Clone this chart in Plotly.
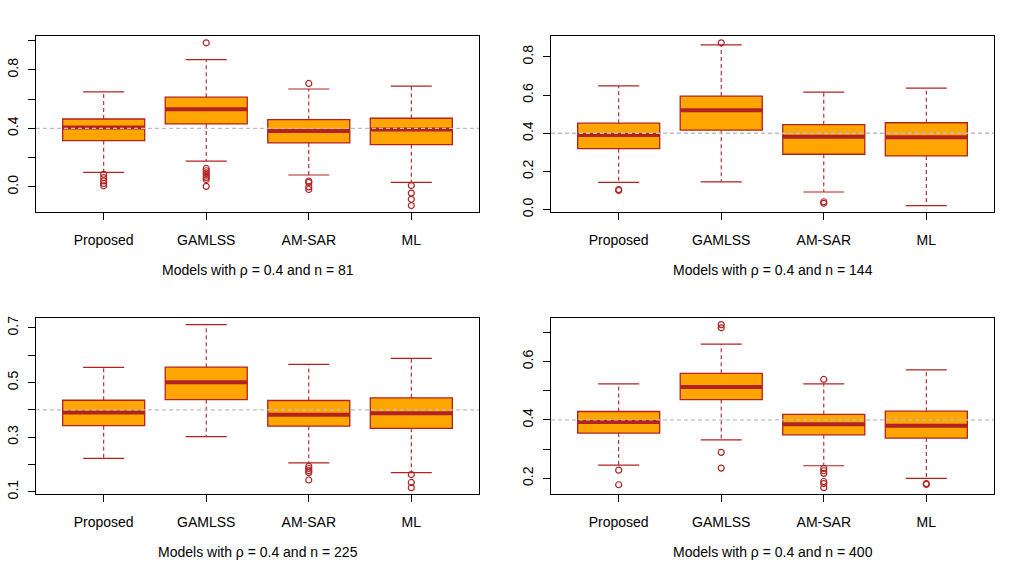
import plotly.graph_objects as go
from plotly.subplots import make_subplots

models = ["Proposed", "GAMLSS", "AM-SAR", "ML"]
rho = 0.4
sample_sizes = [81, 144, 225, 400]

# five-number summaries (lower whisker, q1, median, q3, upper whisker)
n81_lower = [0.099, 0.176, 0.081, 0.030]
n81_q1 = [0.316, 0.430, 0.300, 0.288]
n81_median = [0.405, 0.530, 0.381, 0.392]
n81_q3 = [0.464, 0.613, 0.460, 0.469]
n81_upper = [0.649, 0.870, 0.669, 0.689]
n81_outliers = [[0.086, 0.063, 0.041, 0.023, 0.007],
                [0.985, 0.126, 0.110, 0.095, 0.080, 0.065, 0.050, 0.003],
                [0.707, 0.040, 0.030, 0.000, -0.018],
                [0.009, -0.043, -0.085, -0.128]]

n144_lower = [0.143, 0.145, 0.092, 0.021]
n144_q1 = [0.319, 0.416, 0.290, 0.281]
n144_median = [0.391, 0.521, 0.381, 0.379]
n144_q3 = [0.453, 0.595, 0.445, 0.455]
n144_upper = [0.648, 0.863, 0.615, 0.636]
n144_outliers = [[0.100, 0.105], [0.874], [0.041, 0.033], []]

n225_lower = [0.222, 0.302, 0.206, 0.170]
n225_q1 = [0.342, 0.437, 0.340, 0.332]
n225_median = [0.390, 0.501, 0.382, 0.387]
n225_q3 = [0.435, 0.556, 0.434, 0.444]
n225_upper = [0.555, 0.712, 0.566, 0.588]
n225_outliers = [[], [], [0.193, 0.185, 0.177, 0.170, 0.143], [0.163, 0.134, 0.115]]

n400_lower = [0.245, 0.332, 0.243, 0.200]
n400_q1 = [0.355, 0.470, 0.349, 0.338]
n400_median = [0.393, 0.513, 0.385, 0.380]
n400_q3 = [0.429, 0.560, 0.419, 0.430]
n400_upper = [0.524, 0.660, 0.524, 0.572]
n400_outliers = [[0.228, 0.178],
                 [0.727, 0.716, 0.289, 0.235],
                 [0.539, 0.234, 0.226, 0.217, 0.189, 0.182, 0.168],
                 [0.182, 0.179]]

# y tick values per panel and which ones carry a label
y_ticks = [
    ([0.0, 0.2, 0.4, 0.6, 0.8, 1.0], ["0.0", "", "0.4", "", "0.8", ""]),
    ([0.0, 0.2, 0.4, 0.6, 0.8], ["0.0", "0.2", "0.4", "0.6", "0.8"]),
    ([0.1, 0.2, 0.3, 0.4, 0.5, 0.6, 0.7], ["0.1", "", "0.3", "", "0.5", "", "0.7"]),
    ([0.2, 0.3, 0.4, 0.5, 0.6, 0.7], ["0.2", "", "0.4", "", "0.6", ""]),
]

panels = [
    (n81_lower, n81_q1, n81_median, n81_q3, n81_upper, n81_outliers),
    (n144_lower, n144_q1, n144_median, n144_q3, n144_upper, n144_outliers),
    (n225_lower, n225_q1, n225_median, n225_q3, n225_upper, n225_outliers),
    (n400_lower, n400_q1, n400_median, n400_q3, n400_upper, n400_outliers),
]

FILL = "#FFA500"
EDGE = "#B22222"
FONT = "Liberation Sans, Arial, Helvetica, sans-serif"

fig = make_subplots(rows=2, cols=2)

x_domains = [[36 / 1029, 479 / 1029], [551 / 1029, 994 / 1029]]
y_domains = [[1 - 212.7 / 569, 1 - 34.7 / 569], [1 - 498.3 / 569, 1 - 320 / 569]]

for p, (lo, q1, med, q3, up, outs) in enumerate(panels):
    row, col = p // 2 + 1, p % 2 + 1
    for i, name in enumerate(models):
        pos = i + 1
        # box body (whiskers drawn separately so they can be dashed)
        fig.add_trace(go.Box(x=[pos], q1=[q1[i]], median=[med[i]], q3=[q3[i]],
                             lowerfence=[q1[i]], upperfence=[q3[i]], width=0.8,
                             fillcolor=FILL, line=dict(color=EDGE, width=1.3),
                             boxpoints=False, showlegend=False, hoverinfo="skip"),
                      row=row, col=col)
        # dashed whiskers
        fig.add_trace(go.Scatter(x=[pos, pos, None, pos, pos],
                                 y=[q1[i], lo[i], None, q3[i], up[i]],
                                 mode="lines", line=dict(color=EDGE, width=1.1, dash="4px,3px"),
                                 showlegend=False, hoverinfo="skip"),
                      row=row, col=col)
        # whisker caps
        fig.add_trace(go.Scatter(x=[pos - 0.2, pos + 0.2, None, pos - 0.2, pos + 0.2],
                                 y=[lo[i], lo[i], None, up[i], up[i]],
                                 mode="lines", line=dict(color=EDGE, width=1.2),
                                 showlegend=False, hoverinfo="skip"),
                      row=row, col=col)
        # thick median
        fig.add_trace(go.Scatter(x=[pos - 0.4, pos + 0.4], y=[med[i], med[i]],
                                 mode="lines", line=dict(color=EDGE, width=4),
                                 showlegend=False, hoverinfo="skip"),
                      row=row, col=col)
        if outs[i]:
            fig.add_trace(go.Scatter(x=[pos] * len(outs[i]), y=outs[i], mode="markers",
                                     marker=dict(symbol="circle-open", size=6,
                                                 color=EDGE, line=dict(width=1.2, color=EDGE)),
                                     showlegend=False, hoverinfo="skip"),
                          row=row, col=col)

    # R-style range: data range extended by 4%
    vals = lo + up + [v for o in outs for v in o]
    ymin, ymax = min(vals), max(vals)
    pad = 0.04 * (ymax - ymin)
    tv, tt = y_ticks[p]
    fig.update_yaxes(range=[ymin - pad, ymax + pad], tickvals=tv, ticktext=tt,
                     tickangle=-90, domain=y_domains[row - 1], row=row, col=col)
    fig.update_xaxes(range=[0.34, 4.66], tickvals=[1, 2, 3, 4], ticktext=models,
                     domain=x_domains[col - 1], row=row, col=col)

    fig.add_hline(y=rho, line=dict(color="#BEBEBE", width=1.3, dash="4px,3px"),
                  row=row, col=col)

    ax = "" if p == 0 else str(p + 1)
    fig.add_annotation(text=f"Models with ρ = {rho} and n = {sample_sizes[p]}",
                       xref=f"x{ax} domain", yref=f"y{ax} domain", x=0.5, y=0,
                       yshift=-58, yanchor="middle", showarrow=False,
                       font=dict(family=FONT, size=14, color="black"))

fig.update_xaxes(showline=True, mirror=True, linecolor="black", linewidth=1,
                 ticks="outside", ticklen=7, tickcolor="black", showgrid=False,
                 zeroline=False, tickfont=dict(family=FONT, size=14, color="black"),
                 ticklabelstandoff=8)
fig.update_yaxes(showline=True, mirror=True, linecolor="black", linewidth=1,
                 ticks="outside", ticklen=7, tickcolor="black", showgrid=False,
                 zeroline=False, tickfont=dict(family=FONT, size=14, color="black"),
                 ticklabelstandoff=4)

fig.update_layout(width=1029, height=569, margin=dict(l=0, r=0, t=0, b=0),
                  paper_bgcolor="white", plot_bgcolor="white", showlegend=False,
                  font=dict(family=FONT, size=14, color="black"))

# the page body has a default 8px margin; drop it so the figure fills the window
fig.write_html("out.html", config={"displayModeBar": False},
               post_script="document.body.style.margin='0';")
